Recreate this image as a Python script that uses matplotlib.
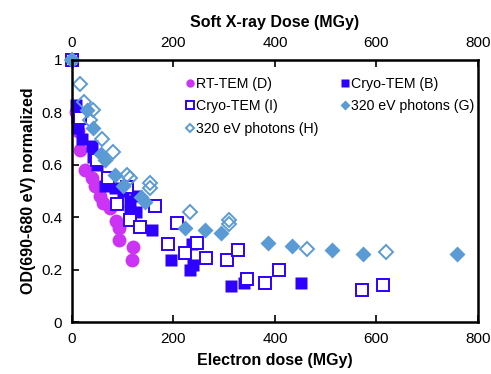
import numpy as np
import matplotlib.pyplot as plt
from matplotlib.ticker import FormatStrFormatter

plt.rcParams['font.family'] = ['Liberation Sans', 'DejaVu Sans']

# RT-TEM (D)
rt_d_x = [0, 8, 12, 16, 26, 40, 45, 55, 62, 75, 87, 93, 93, 121, 118]
rt_d_y = [1.0, 0.80, 0.73, 0.655, 0.58, 0.55, 0.52, 0.48, 0.456, 0.434, 0.385, 0.357, 0.312, 0.287, 0.236]

# Cryo-TEM (B), filled squares
cryo_b_x = [0, 8, 10, 12, 20, 39, 42, 49, 65, 75, 85, 100, 114, 114, 127, 127,
            157, 195, 232, 236, 238, 313, 339, 452]
cryo_b_y = [1.0, 0.83, 0.78, 0.74, 0.70, 0.67, 0.63, 0.60, 0.52, 0.55, 0.51, 0.50, 0.46, 0.42,
            0.48, 0.42, 0.35, 0.235, 0.198, 0.297, 0.217, 0.137, 0.147, 0.147]

# Cryo-TEM (I), open squares
cryo_i_x = [0, 15, 50, 70, 88, 108, 114, 134, 164, 190, 206, 223, 246, 265, 305, 328,
            344, 380, 408, 571, 612]
cryo_i_y = [1.0, 0.78, 0.62, 0.55, 0.452, 0.515, 0.39, 0.363, 0.442, 0.297, 0.376, 0.262,
            0.30, 0.243, 0.236, 0.274, 0.166, 0.15, 0.20, 0.122, 0.141]

# 320 eV photons (G), filled diamonds
ph_g_x = [0, 29, 42, 58, 65, 85, 100, 136, 144, 223, 262, 293, 387, 433, 512, 573, 759]
ph_g_y = [1.0, 0.81, 0.74, 0.64, 0.62, 0.56, 0.52, 0.477, 0.458, 0.357, 0.353, 0.338,
          0.302, 0.29, 0.276, 0.259, 0.259]

# 320 eV photons (H), open diamonds
ph_h_x = [0, 16, 24, 35, 42, 60, 81, 108, 114, 154, 154, 232, 310, 310, 464, 619]
ph_h_y = [1.0, 0.91, 0.84, 0.77, 0.81, 0.70, 0.65, 0.56, 0.55, 0.53, 0.51, 0.42, 0.39,
          0.373, 0.28, 0.268]

magenta = '#CC33F5'
blue = '#2E00FF'
lightblue = '#5B9BD5'

fig = plt.figure(figsize=(4.91, 3.74), dpi=100)
ax = fig.add_axes([0.1466, 0.139, 0.8269, 0.7006])

d, = ax.plot(rt_d_x, rt_d_y, 'o', color=magenta, ms=10, mec='none', clip_on=False,
             label='RT-TEM (D)')
b, = ax.plot(cryo_b_x, cryo_b_y, 's', color=blue, ms=9, mec='none', clip_on=False,
             label='Cryo-TEM (B)')
i, = ax.plot(cryo_i_x, cryo_i_y, 's', mfc='white', mec=blue, mew=1.4, ms=8.5, clip_on=False,
             label='Cryo-TEM (I)')
g, = ax.plot(ph_g_x, ph_g_y, 'D', color=lightblue, ms=8, mec='none', clip_on=False,
             label='320 eV photons (G)')
h, = ax.plot(ph_h_x, ph_h_y, 'D', mfc='none', mec=lightblue, mew=1.4, ms=7.5, clip_on=False,
             label='320 eV photons (H)')

ax.set_xlim(0, 800)
ax.set_ylim(0, 1)
ax.set_xticks([0, 200, 400, 600, 800])
ax.set_yticks([0, 0.2, 0.4, 0.6, 0.8, 1.0])
ax.yaxis.set_major_formatter(FormatStrFormatter('%g'))
ax.tick_params(direction='in', length=5, width=1.2, labelsize=11, pad=7, right=False)
for s in ax.spines.values():
    s.set_linewidth(1.8)

ax.set_xlabel('Electron dose (MGy)', fontsize=11.5, fontweight='bold', labelpad=5)
ax.set_ylabel('OD(690-680 eV) normalized', fontsize=11.5, fontweight='bold', labelpad=4)

top = ax.secondary_xaxis('top')
top.set_xticks([0, 200, 400, 600, 800])
top.tick_params(direction='in', length=5, width=1.2, labelsize=11, pad=7)
top.set_xlabel('Soft X-ray Dose (MGy)', fontsize=11.5, fontweight='bold', labelpad=7)

ax.legend([d, i, h, b, g], [x.get_label() for x in (d, i, h, b, g)], ncol=2,
          frameon=False, fontsize=10.2, loc='upper left', bbox_to_anchor=(0.25, 0.985),
          handlelength=0.6, handletextpad=0.1, columnspacing=1.6, labelspacing=0.6,
          markerscale=0.6)

fig.savefig('out.png', dpi=100)
